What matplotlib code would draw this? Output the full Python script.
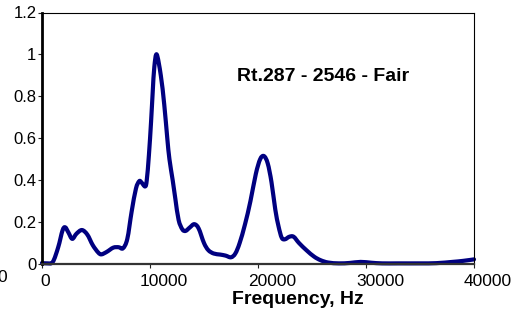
import matplotlib
matplotlib.use("Agg")
import matplotlib.pyplot as plt
from matplotlib.path import Path
from matplotlib.patches import PathPatch
from matplotlib.transforms import ScaledTranslation

plt.rcParams['font.family'] = ['Liberation Sans', 'DejaVu Sans']

freq = [0, 500, 1000, 1500, 1900, 2150, 2450, 2800, 3200, 3700, 4200, 4700, 5200, 5500,
        6000, 6600, 7100, 7500, 7900, 8300, 8700, 9000, 9200, 9550, 9700, 9900, 10100, 10250,
        10400, 10620, 11000, 11320, 11600, 11800, 12100, 12350, 12650, 13000, 13300,
        13700, 14100, 14500, 15000, 15400, 15900, 16500, 17000, 17500, 17900, 18300, 18800,
        19300, 19800, 20200, 20550, 20900, 21250, 21600, 21900, 22200, 22500, 22900, 23300,
        23800, 24500, 25200, 25800, 26500, 27500, 28500, 29500, 30500, 31500, 33000, 35000,
        36500, 38000, 39000, 40000]
amp = [0.005, 0.003, 0.01, 0.08, 0.16, 0.175, 0.15, 0.12, 0.145, 0.162, 0.14, 0.09, 0.055, 0.046,
       0.058, 0.078, 0.08, 0.075, 0.12, 0.25, 0.36, 0.395, 0.39, 0.37, 0.40, 0.52, 0.68, 0.82,
       0.94, 1.0, 0.9, 0.76, 0.6, 0.5, 0.4, 0.31, 0.21, 0.165, 0.158,
       0.175, 0.19, 0.17, 0.1, 0.066, 0.05, 0.045, 0.04, 0.032, 0.05, 0.1, 0.19,
       0.3, 0.43, 0.5, 0.515, 0.48, 0.39, 0.26, 0.18, 0.125, 0.118, 0.13, 0.13,
       0.1, 0.065, 0.035, 0.018, 0.007, 0.003, 0.005, 0.01, 0.006, 0.003, 0.003, 0.003,
       0.004, 0.01, 0.015, 0.022]

xticks = [0, 10000, 20000, 30000, 40000]
yticks = [0, 0.2, 0.4, 0.6, 0.8, 1, 1.2]
ytick_labels = ['0', '0.2', '0.4', '0.6', '0.8', '1', '1.2']
title = "Rt.287 - 2546 - Fair"
xlabel = "Frequency, Hz"

fig = plt.figure(figsize=(5.19, 3.18), dpi=100)
ax = fig.add_axes([42/519, 1-264/318, 432/519, 251.5/318])


def smooth_path(xs, ys):
    # Excel-style smoothed line: Catmull-Rom converted to cubic Bezier segments
    pts = list(zip(xs, ys))
    n = len(pts)
    verts = [pts[0]]
    codes = [Path.MOVETO]
    for i in range(n - 1):
        p0 = pts[i - 1] if i > 0 else pts[i]
        p1 = pts[i]
        p2 = pts[i + 1]
        p3 = pts[i + 2] if i + 2 < n else pts[i + 1]
        c1 = (p1[0] + (p2[0] - p0[0]) / 6, p1[1] + (p2[1] - p0[1]) / 6)
        c2 = (p2[0] - (p3[0] - p1[0]) / 6, p2[1] - (p3[1] - p1[1]) / 6)
        verts += [c1, c2, p2]
        codes += [Path.CURVE4] * 3
    return Path(verts, codes)


patch = PathPatch(smooth_path(freq, amp), facecolor='none', edgecolor='#000080', lw=3.0,
                  joinstyle='round', capstyle='round', clip_on=False)
ax.add_patch(patch)
ax.set_xlim(0, 40000)
ax.set_ylim(0, 1.2)
ax.set_xticks(xticks)
ax.set_xticklabels([str(t) for t in xticks])
ax.set_yticks(yticks)
ax.set_yticklabels(ytick_labels)
ax.tick_params(axis='both', direction='out', length=3, width=0.8, colors='#222222',
               labelcolor='black')
ax.tick_params(axis='x', pad=4, labelsize=12.5)
ax.tick_params(axis='y', pad=1, labelsize=12)
# Labels sit to the right of their ticks in the original chart
for i, lab in enumerate(ax.get_xticklabels()):
    dx = 2.7 if i == 0 else 14
    lab.set_transform(lab.get_transform() + ScaledTranslation(dx / 100, 0, fig.dpi_scale_trans))
for s in ['top', 'right']:
    ax.spines[s].set_linewidth(0.8)
    ax.spines[s].set_color('black')
ax.spines['left'].set_linewidth(2)
ax.spines['left'].set_color('black')
ax.spines['bottom'].set_linewidth(1.6)
ax.spines['bottom'].set_color('#333333')

fig.text(323/519, 1-76.5/318, title, ha='center', va='center', fontsize=14, fontweight='bold')
fig.text(297.5/519, 1-299/318, xlabel, ha='center', va='center', fontsize=14, fontweight='bold')
fig.text(2.5/519, 1-277/318, '0', ha='center', va='center', fontsize=12.5)

fig.savefig('out.png', dpi=100)
